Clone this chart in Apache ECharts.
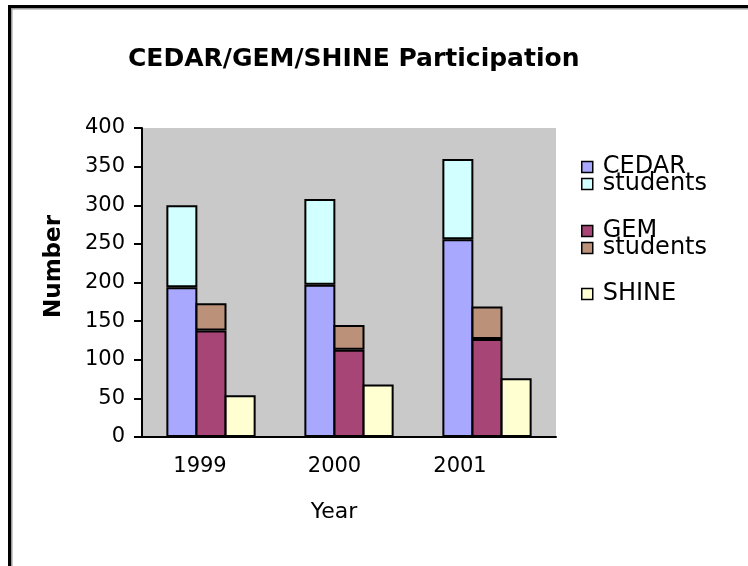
<!DOCTYPE html>
<html>
<head>
<meta charset="utf-8">
<script src="https://cdn.jsdelivr.net/npm/echarts@6/dist/echarts.min.js"></script>
<style>
html,body{margin:0;padding:0;background:#fff;}
#c{width:748px;height:566px;}
</style>
</head>
<body>
<div id="c"></div>
<script>
const years = ['1999', '2000', '2001'];
const cedar = [194, 197, 256];
const cedarStudents = [106, 111, 104];
const gem = [138, 113, 127];
const gemStudents = [35, 32, 42];
const shine = [54, 68, 76];
const yTicks = { min: 0, max: 400, interval: 50 };

const FONT = 'DejaVu Sans';
const border = { borderColor: '#000', borderWidth: 2 };

const chart = echarts.init(document.getElementById('c'));
const legendText = { fontFamily: FONT, fontSize: 24, color: '#000', padding: [0, 0, 0, 5] };
const legendCommon = {
  orient: 'vertical', left: 581, padding: 0, itemGap: -7,
  itemWidth: 11, itemHeight: 11, icon: 'rect',
  itemStyle: { borderColor: '#000', borderWidth: 1.5 },
  textStyle: legendText,
  formatter: n => n.trim(),
  selectedMode: false
};
chart.setOption({
  backgroundColor: '#ffffff',
  animation: false,
  title: {
    text: 'CEDAR/GEM/SHINE Participation',
    left: 123, top: 42,
    textStyle: { fontFamily: FONT, fontWeight: 'bold', fontSize: 25, color: '#000' }
  },
  legend: [
    Object.assign({}, legendCommon, { top: 155, data: ['CEDAR', 'students'] }),
    Object.assign({}, legendCommon, { top: 219, data: ['GEM', 'students '] }),
    Object.assign({}, legendCommon, { top: 282, data: ['SHINE'] })
  ],
  grid: {
    left: 142, right: 192, top: 128, bottom: 129,
    show: true, backgroundColor: '#C9C9C9', borderWidth: 0
  },
  xAxis: {
    type: 'category',
    data: years,
    name: 'Year',
    nameLocation: 'middle',
    nameGap: 64,
    nameTextStyle: { fontFamily: FONT, fontSize: 22, color: '#000', padding: [0, 30, 0, 0] },
    axisLine: { lineStyle: { color: '#000', width: 2 } },
    axisTick: { show: false },
    axisLabel: {
      interval: 0,
      margin: 19,
      fontFamily: FONT, fontSize: 21, color: '#000',
      formatter: (v, i) => '{p' + i + '|' + v + '}',
      rich: {
        p0: { fontFamily: FONT, fontSize: 21, color: '#000', padding: [0, 22, 0, 0] },
        p1: { fontFamily: FONT, fontSize: 21, color: '#000', padding: [0, 29, 0, 0] },
        p2: { fontFamily: FONT, fontSize: 21, color: '#000', padding: [0, 54, 0, 0] }
      }
    }
  },
  yAxis: {
    type: 'value',
    min: yTicks.min, max: yTicks.max, interval: yTicks.interval,
    name: 'Number',
    nameLocation: 'middle',
    nameGap: 76,
    nameTextStyle: { fontFamily: FONT, fontWeight: 'bold', fontSize: 23, color: '#000', padding: [0, 0, 0, 32] },
    axisLine: { show: true, lineStyle: { color: '#000', width: 2 } },
    axisTick: { show: true, length: 8, lineStyle: { color: '#000', width: 2 } },
    splitLine: { show: false },
    axisLabel: { margin: 17, fontFamily: FONT, fontSize: 21, color: '#000' }
  },
  series: [
    { name: 'CEDAR', type: 'bar', stack: 'cedar', data: cedar, barWidth: 31, barGap: '-6%',
      itemStyle: Object.assign({ color: '#A8A8FF' }, border) },
    { name: 'students', type: 'bar', stack: 'cedar', data: cedarStudents, barWidth: 31, barGap: '-6%',
      itemStyle: Object.assign({ color: '#D2FFFF' }, border) },
    { name: 'GEM', type: 'bar', stack: 'gem', data: gem, barWidth: 31, barGap: '-6%',
      itemStyle: Object.assign({ color: '#A84577' }, border) },
    { name: 'students ', type: 'bar', stack: 'gem', data: gemStudents, barWidth: 31, barGap: '-6%',
      itemStyle: Object.assign({ color: '#BC917A' }, border) },
    { name: 'SHINE', type: 'bar', stack: 'shine', data: shine, barWidth: 31, barGap: '-6%',
      itemStyle: Object.assign({ color: '#FFFFD2' }, border) }
  ],
  graphic: [
    { type: 'rect', shape: { x: 8, y: 8, width: 740, height: 1.5 }, style: { fill: '#999' }, silent: true },
    { type: 'rect', shape: { x: 11, y: 8, width: 1.5, height: 558 }, style: { fill: '#999' }, silent: true },
    { type: 'rect', shape: { x: 8, y: 5, width: 740, height: 3 }, style: { fill: '#000' }, silent: true },
    { type: 'rect', shape: { x: 8, y: 5, width: 3, height: 561 }, style: { fill: '#000' }, silent: true }
  ]
});
</script>
</body>
</html>
